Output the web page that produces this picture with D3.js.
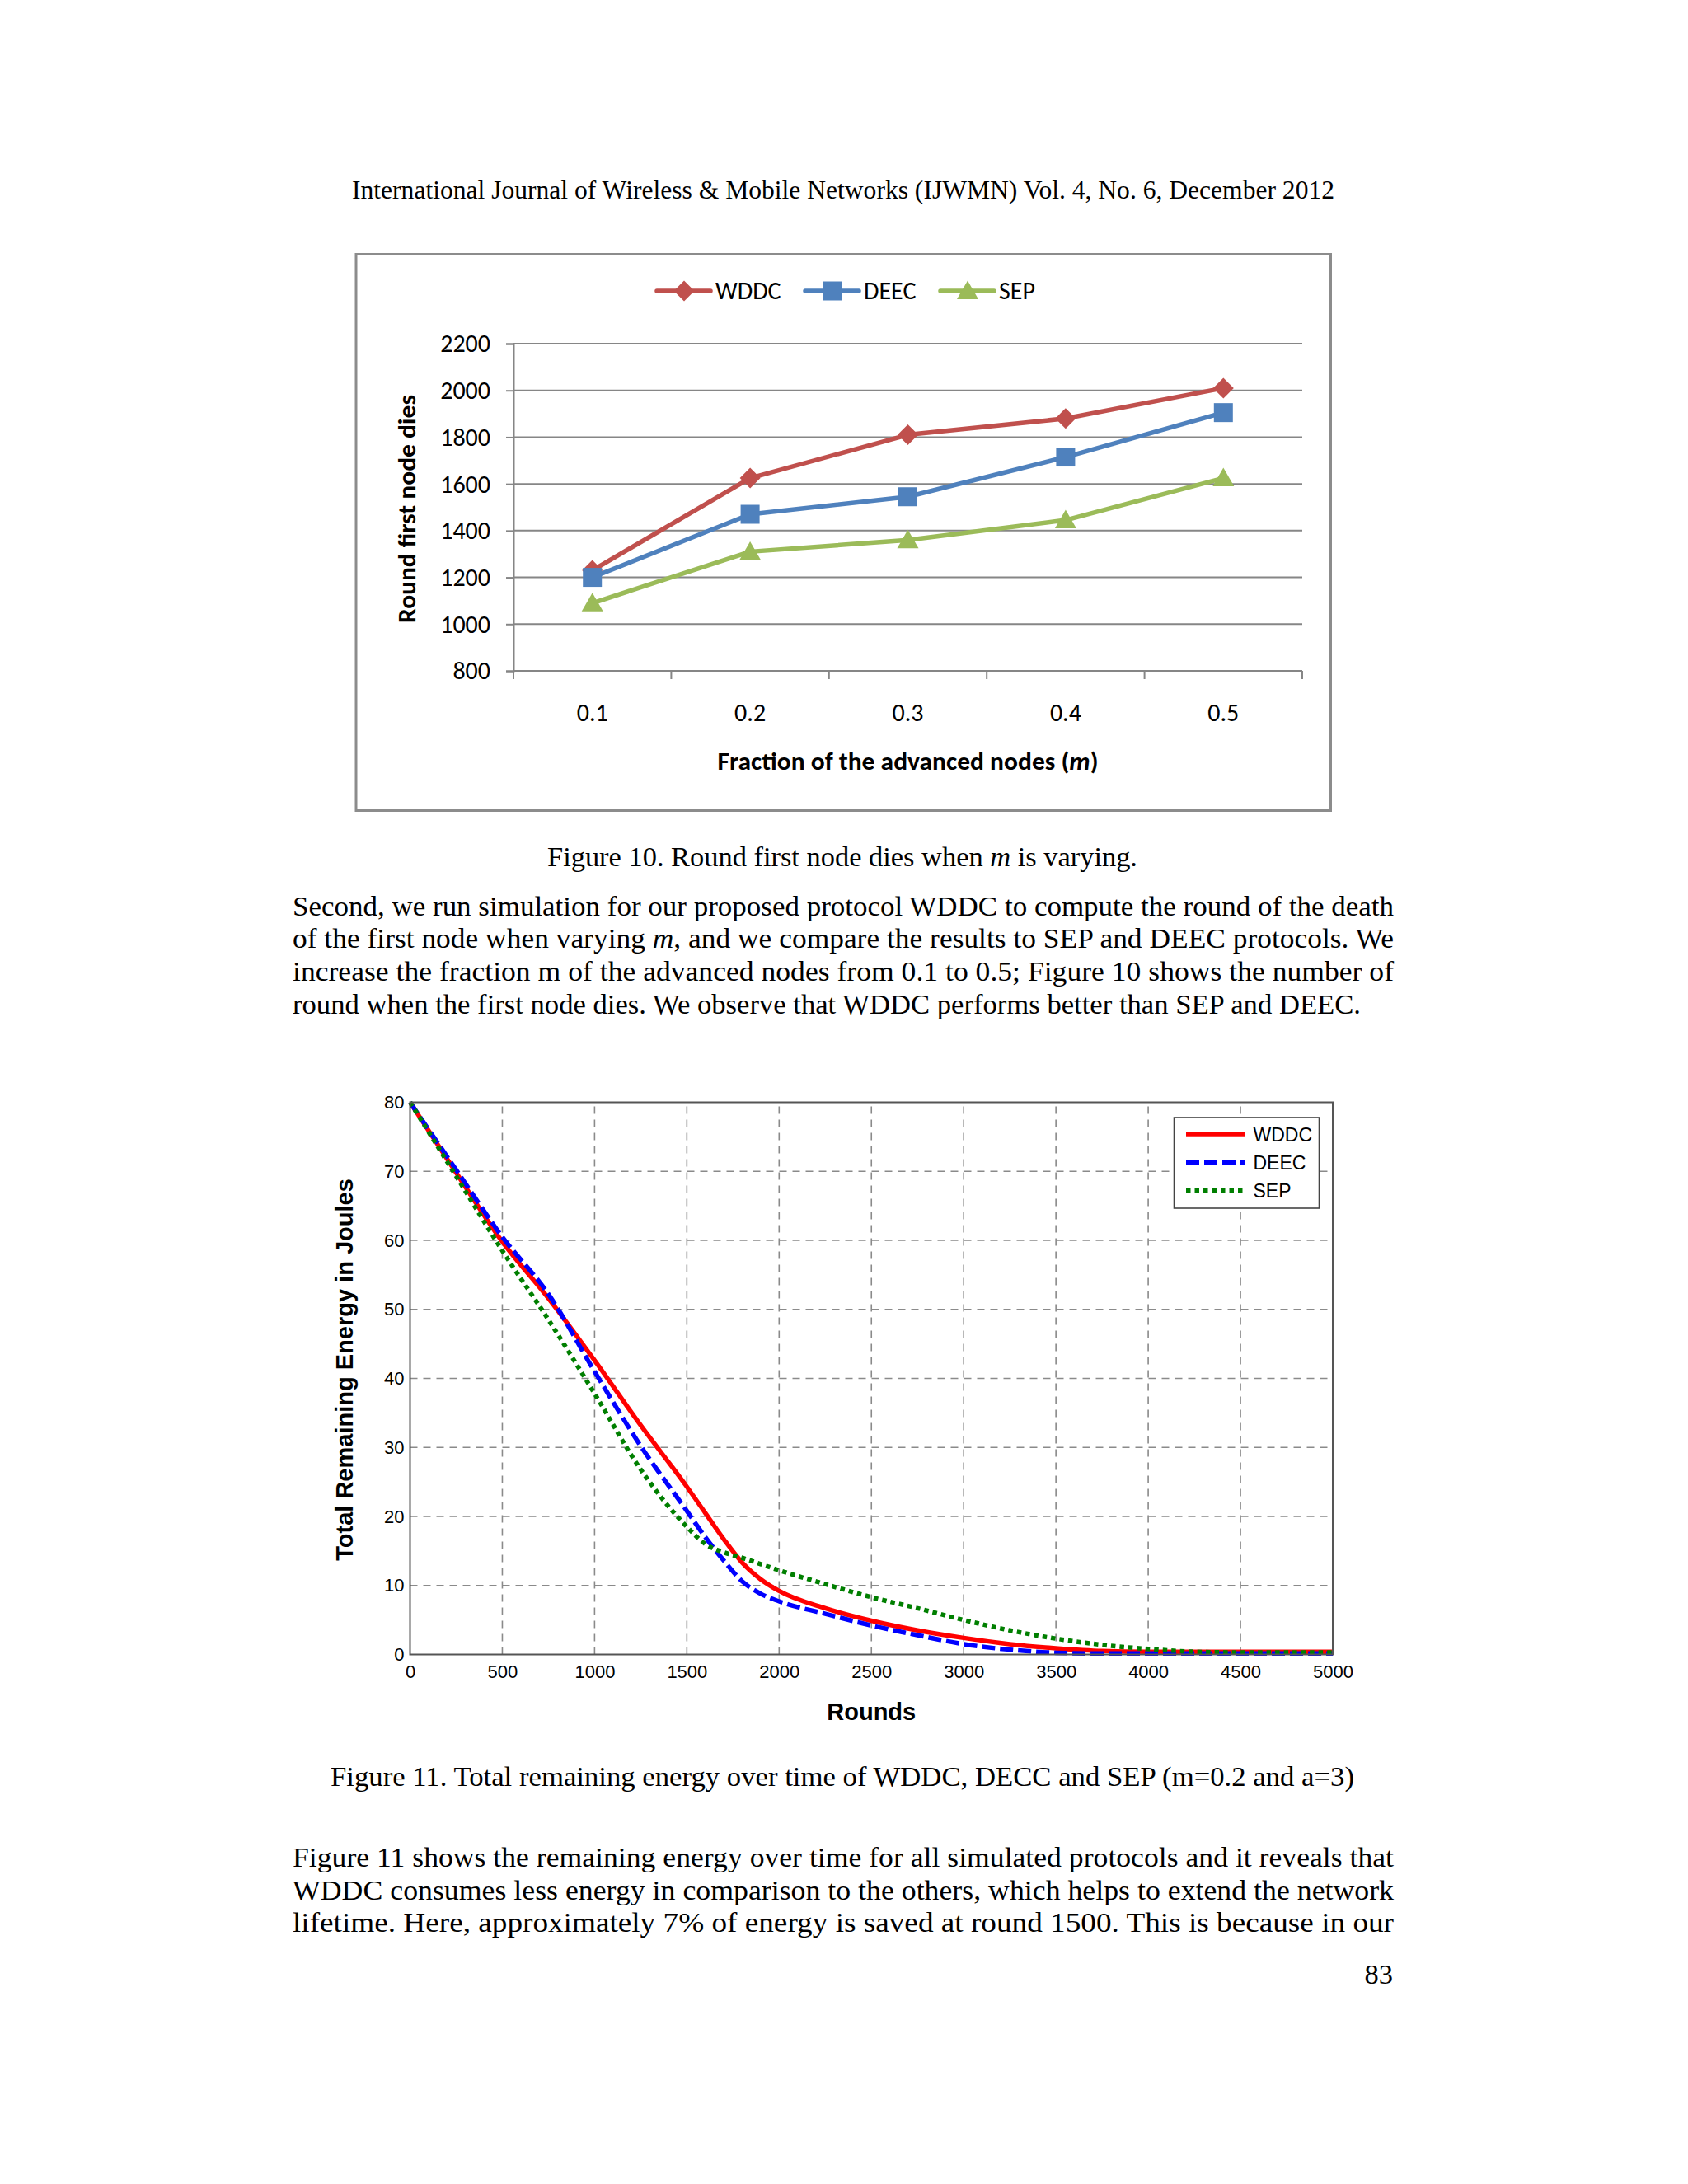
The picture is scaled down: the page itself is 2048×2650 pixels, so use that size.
<!DOCTYPE html>
<html><head><meta charset="utf-8">
<script src="https://cdn.jsdelivr.net/npm/d3@7/dist/d3.min.js"></script>
<style>body{margin:0;background:#fff} svg{display:block}</style>
</head><body>
<svg id="page" width="2048" height="2650"></svg>
<script>
// ---------------- DATA ----------------
// Figure 10
const fractions = ["0.1", "0.2", "0.3", "0.4", "0.5"];
const wddcFirstDeath = [1230, 1625, 1810, 1880, 2010];
const deecFirstDeath = [1200, 1470, 1545, 1715, 1905];
const sepFirstDeath  = [1090, 1310, 1360, 1445, 1625];
const fig10YTicks = [800, 1000, 1200, 1400, 1600, 1800, 2000, 2200];
const fig10Series = ["WDDC", "DEEC", "SEP"];

// Figure 11
const rounds     = [0, 250, 500, 750, 1000, 1250, 1500, 1600, 1700, 1800, 1900, 2000, 2250, 2500, 2750, 3000, 3250, 3500, 3750, 4000, 4250, 4500, 4750, 5000];
const wddcEnergy = [80, 69.8, 59.8, 51.6, 42.6, 33.2, 24.3, 20.5, 16.7, 13.3, 10.9, 9.2, 6.7, 4.9, 3.5, 2.4, 1.5, 0.9, 0.5, 0.4, 0.4, 0.4, 0.4, 0.4];
const deecEnergy = [80, 70.2, 60.5, 52.2, 41.0, 30.2, 20.8, 17.0, 13.6, 10.6, 8.8, 7.7, 5.9, 4.2, 2.8, 1.5, 0.7, 0.25, 0.15, 0.15, 0.15, 0.15, 0.15, 0.15];
const sepEnergy  = [80, 69.3, 58.5, 48.5, 37.8, 26.8, 18.5, 16.0, 14.8, 14.0, 13.1, 12.2, 10.2, 8.3, 6.7, 5.0, 3.5, 2.3, 1.4, 0.8, 0.4, 0.3, 0.3, 0.3];
const fig11XTicks = [0, 500, 1000, 1500, 2000, 2500, 3000, 3500, 4000, 4500, 5000];
const fig11YTicks = [0, 10, 20, 30, 40, 50, 60, 70, 80];
const fig11Series = ["WDDC", "DEEC", "SEP"];

// Page text
const headerText = "International Journal of Wireless & Mobile Networks (IJWMN) Vol. 4, No. 6, December 2012";
const caption10 = [["Figure 10. Round first node dies when ", false], ["m", true], [" is varying.", false]];
const para1 = [
  [["Second, we run simulation for our proposed protocol WDDC to compute the round of the death", false]],
  [["of the first node when varying ", false], ["m", true], [", and we compare the results to SEP and DEEC protocols. We", false]],
  [["increase the fraction m of the advanced nodes from 0.1 to 0.5; Figure 10 shows the number of", false]],
  [["round when the first node dies. We observe that WDDC performs better than SEP and DEEC.", false]]
];
const caption11 = [["Figure 11. Total remaining energy over time of WDDC, DECC and SEP (m=0.2 and a=3)", false]];
const para2 = [
  [["Figure 11 shows the remaining energy over time for all simulated protocols and it reveals that", false]],
  [["WDDC consumes less energy in comparison to the others, which helps to extend the network", false]],
  [["lifetime. Here, approximately 7% of energy is saved at round 1500. This is because in our", false]]
];
const pageNumber = "83";

// ---------------- DRAW ----------------
const svg = d3.select("#page");
svg.append("rect").attr("width", 2048).attr("height", 2650).attr("fill", "#fff");

const SERIF = "'Liberation Serif','Times New Roman',serif";
function textLine(segs, x, y, size, len, anchor) {
  const t = svg.append("text").attr("x", x).attr("y", y)
    .attr("font-family", SERIF).attr("font-size", size).attr("fill", "#000")
    .attr("text-anchor", anchor || "start");
  segs.forEach(([s, it]) => t.append("tspan").text(s).attr("font-style", it ? "italic" : "normal"));
  if (len) t.attr("textLength", len).attr("lengthAdjust", "spacingAndGlyphs");
  return t;
}

// Header
textLine([[headerText, false]], 427, 241, 31, 1192);
// Caption 10
textLine(caption10, 664, 1051, 34.5, 716);
// Paragraph 1
const p1Base = [1110.5, 1150, 1189.5, 1229.5];
const p1Len = [1336, 1336, 1336, 1296];
para1.forEach((l, i) => textLine(l, 355, p1Base[i], 34.5, p1Len[i]));
// Caption 11
textLine(caption11, 401, 2166.5, 34.5, 1242);
// Paragraph 2
const p2Base = [2265, 2304.5, 2343.5];
para2.forEach((l, i) => textLine(l, 355, p2Base[i], 34.5, 1336));
// page number
textLine([[pageNumber, false]], 1690, 2406.5, 34.5, null, "end");

// ---------- Figure 10 ----------
const CAL = "Carlito, Calibri, Lato, sans-serif";
const c1 = {left: 623, right: 1580, top: 417, bottom: 814};
const col10 = {WDDC: "#C0504D", DEEC: "#4F81BD", SEP: "#9BBB59"};
const f10vals = {WDDC: wddcFirstDeath, DEEC: deecFirstDeath, SEP: sepFirstDeath};

svg.append("rect").attr("x", 432).attr("y", 308.5).attr("width", 1182.5).attr("height", 675)
  .attr("fill", "#fff").attr("stroke", "#8c8c8c").attr("stroke-width", 3);

const x1 = d3.scaleBand().domain(fractions).range([c1.left, c1.right]);
const y1 = d3.scaleLinear().domain([800, 2200]).range([c1.bottom, c1.top]);

const g1 = svg.append("g");
// gridlines
g1.selectAll("line.grid").data(fig10YTicks.filter(d => d > 800)).join("line")
  .attr("x1", c1.left).attr("x2", c1.right)
  .attr("y1", d => y1(d)).attr("y2", d => y1(d))
  .attr("stroke", "#868686").attr("stroke-width", 2);
// y axis
const yAx1 = g1.append("g").attr("transform", `translate(${c1.left},0)`)
  .call(d3.axisLeft(y1).tickValues(fig10YTicks).tickSize(9).tickPadding(19).tickFormat(d3.format("d")));
yAx1.select(".domain").attr("stroke", "#868686").attr("stroke-width", 2);
yAx1.selectAll(".tick line").attr("stroke", "#868686").attr("stroke-width", 2);
yAx1.selectAll("text").attr("font-family", CAL).attr("font-size", 30).attr("fill", "#000").attr("dy", "0.33em");
// x axis
const xAx1 = g1.append("g").attr("transform", `translate(0,${c1.bottom})`)
  .call(d3.axisBottom(x1).tickSize(0).tickPadding(40));
xAx1.select(".domain").remove();
xAx1.selectAll("text").attr("font-family", CAL).attr("font-size", 30).attr("fill", "#000");
g1.append("line").attr("x1", c1.left).attr("x2", c1.right).attr("y1", c1.bottom).attr("y2", c1.bottom)
  .attr("stroke", "#868686").attr("stroke-width", 2);
const bounds = d3.range(fractions.length + 1).map(i => c1.left + i * x1.step());
g1.selectAll("line.xt").data(bounds).join("line")
  .attr("x1", d => d).attr("x2", d => d).attr("y1", c1.bottom).attr("y2", c1.bottom + 10)
  .attr("stroke", "#868686").attr("stroke-width", 2);

// markers
function markerPath(name) {
  if (name === "WDDC") return "M0,-12.5L12.5,0L0,12.5L-12.5,0Z";
  if (name === "DEEC") return "M-11.5,-11.5H11.5V11.5H-11.5Z";
  return "M0,-12.5L13,10L-13,10Z";
}
const line1 = d3.line().x((d, i) => x1(fractions[i]) + x1.bandwidth() / 2).y(d => y1(d));
fig10Series.forEach(s => {
  g1.append("path").attr("d", line1(f10vals[s])).attr("fill", "none")
    .attr("stroke", col10[s]).attr("stroke-width", 5.5).attr("stroke-linejoin", "round").attr("stroke-linecap", "round");
  g1.selectAll(null).data(f10vals[s]).join("path")
    .attr("transform", (d, i) => `translate(${x1(fractions[i]) + x1.bandwidth() / 2},${y1(d)})`)
    .attr("d", markerPath(s)).attr("fill", col10[s]);
});
// legend
const leg1 = [{s: "WDDC", x: 797}, {s: "DEEC", x: 977}, {s: "SEP", x: 1141}];
leg1.forEach(o => {
  g1.append("line").attr("x1", o.x).attr("x2", o.x + 65).attr("y1", 353).attr("y2", 353)
    .attr("stroke", col10[o.s]).attr("stroke-width", 5.5).attr("stroke-linecap", "round");
  g1.append("path").attr("transform", `translate(${o.x + 33},353)`).attr("d", markerPath(o.s)).attr("fill", col10[o.s]);
  g1.append("text").attr("x", o.x + 71).attr("y", 363).text(o.s)
    .attr("font-family", CAL).attr("font-size", 30).attr("fill", "#000");
});
// titles
const xt1 = g1.append("text").attr("x", (c1.left + c1.right) / 2).attr("y", 934).attr("text-anchor", "middle")
  .attr("font-family", CAL).attr("font-size", 30).attr("font-weight", "bold").attr("fill", "#000")
  .attr("textLength", 462).attr("lengthAdjust", "spacingAndGlyphs");
xt1.append("tspan").text("Fraction of the advanced nodes (");
xt1.append("tspan").text("m").attr("font-style", "italic");
xt1.append("tspan").text(")");
g1.append("text").attr("transform", "translate(504,617.5) rotate(-90)").attr("text-anchor", "middle")
  .attr("font-family", CAL).attr("font-size", 31).attr("font-weight", "bold").attr("fill", "#000")
  .attr("textLength", 277).attr("lengthAdjust", "spacingAndGlyphs")
  .text("Round first node dies");

// ---------- Figure 11 ----------
const ARIAL = "'Liberation Sans', Arial, sans-serif";
const c2 = {left: 497.5, right: 1617, top: 1337.5, bottom: 2007.5};
const x2 = d3.scaleLinear().domain([0, 5000]).range([c2.left, c2.right]);
const y2 = d3.scaleLinear().domain([0, 80]).range([c2.bottom, c2.top]);
const g2 = svg.append("g");

// grid
g2.selectAll("line.vg").data(fig11XTicks.slice(1, -1)).join("line")
  .attr("x1", d => x2(d)).attr("x2", d => x2(d)).attr("y1", c2.bottom).attr("y2", c2.top)
  .attr("stroke", "#8a8a8a").attr("stroke-width", 1.6).attr("stroke-dasharray", "9,7");
g2.selectAll("line.hg").data(fig11YTicks.slice(1, -1)).join("line")
  .attr("x1", c2.left).attr("x2", c2.right).attr("y1", d => y2(d)).attr("y2", d => y2(d))
  .attr("stroke", "#8a8a8a").attr("stroke-width", 1.6).attr("stroke-dasharray", "9,7");

// axes labels via d3 axes
const xAx2 = g2.append("g").attr("transform", `translate(0,${c2.bottom})`)
  .call(d3.axisBottom(x2).tickValues(fig11XTicks).tickSize(0).tickPadding(13).tickFormat(d3.format("d")));
xAx2.select(".domain").remove();
xAx2.selectAll("text").attr("font-family", ARIAL).attr("font-size", 22).attr("fill", "#000");
const yAx2 = g2.append("g").attr("transform", `translate(${c2.left},0)`)
  .call(d3.axisLeft(y2).tickValues(fig11YTicks).tickSize(0).tickPadding(7).tickFormat(d3.format("d")));
yAx2.select(".domain").remove();
yAx2.selectAll("text").attr("font-family", ARIAL).attr("font-size", 22).attr("fill", "#000");

// curves
const f11vals = {WDDC: wddcEnergy, DEEC: deecEnergy, SEP: sepEnergy};
const style11 = {
  WDDC: {c: "#ff0000", dash: null},
  DEEC: {c: "#0000ff", dash: "16,6"},
  SEP:  {c: "#007f00", dash: "5.5,5"}
};
const line2 = d3.line().x((d, i) => x2(rounds[i])).y(d => y2(d)).curve(d3.curveMonotoneX);
fig11Series.forEach(s => {
  g2.append("path").attr("d", line2(f11vals[s])).attr("fill", "none")
    .attr("stroke", style11[s].c).attr("stroke-width", 5.5)
    .attr("stroke-dasharray", style11[s].dash);
});
// frame
g2.append("rect").attr("x", c2.left).attr("y", c2.top).attr("width", c2.right - c2.left).attr("height", c2.bottom - c2.top)
  .attr("fill", "none").attr("stroke", "#555").attr("stroke-width", 2);

// legend
g2.append("rect").attr("x", 1424.5).attr("y", 1356).attr("width", 176).attr("height", 110)
  .attr("fill", "#fff").attr("stroke", "#444").attr("stroke-width", 1.6);
const legY2 = [1376, 1410.5, 1444.5];
fig11Series.forEach((s, i) => {
  g2.append("line").attr("x1", 1439).attr("x2", 1511).attr("y1", legY2[i]).attr("y2", legY2[i])
    .attr("stroke", style11[s].c).attr("stroke-width", 5.5).attr("stroke-dasharray", style11[s].dash);
  g2.append("text").attr("x", 1520.5).attr("y", legY2[i] + 8.5).text(s)
    .attr("font-family", ARIAL).attr("font-size", 23).attr("fill", "#000");
});
// titles
g2.append("text").attr("x", (c2.left + c2.right) / 2).attr("y", 2087).attr("text-anchor", "middle")
  .attr("font-family", ARIAL).attr("font-size", 29).attr("font-weight", "bold").attr("fill", "#000").text("Rounds");
g2.append("text").attr("transform", "translate(428,1662) rotate(-90)").attr("text-anchor", "middle")
  .attr("font-family", ARIAL).attr("font-size", 29).attr("font-weight", "bold").attr("fill", "#000")
  .text("Total Remaining Energy in Joules");
</script>
</body></html>
